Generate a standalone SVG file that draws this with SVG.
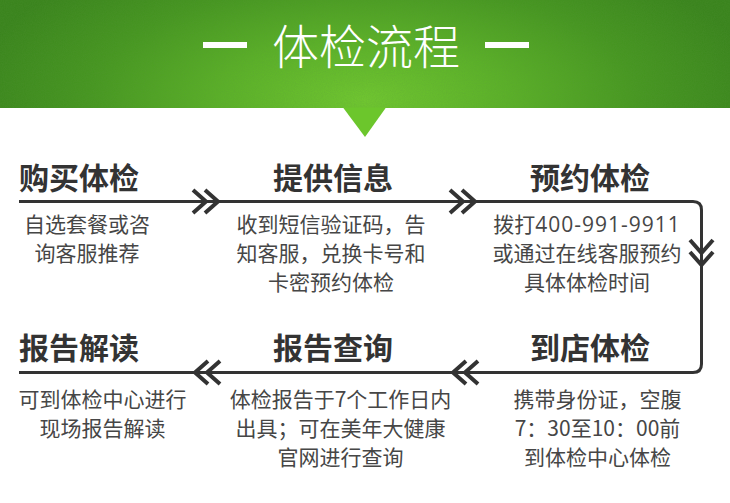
<svg xmlns="http://www.w3.org/2000/svg" width="730" height="503" viewBox="0 0 730 503">
<defs>
<radialGradient id="bg" gradientUnits="userSpaceOnUse" cx="365" cy="100" r="400" gradientTransform="translate(365 100) scale(1 0.42) translate(-365 -100)">
<stop offset="0" stop-color="#72ca2f"/>
<stop offset="0.35" stop-color="#5cb327"/>
<stop offset="0.7" stop-color="#45961f"/>
<stop offset="1" stop-color="#38831b"/>
</radialGradient>
<filter id="noise" x="0" y="0" width="100%" height="100%">
<feTurbulence type="fractalNoise" baseFrequency="0.9" numOctaves="2" stitchTiles="stitch"/>
<feColorMatrix type="matrix" values="0 0 0 0 0.1  0 0 0 0 0.3  0 0 0 0 0.05  0 0 0 0.4 0"/>
</filter>
<style>
.head{font-family:"Noto Sans CJK SC","Noto Sans",sans-serif;font-size:30px;font-weight:bold;fill:#333333;}
.desc{font-family:"Noto Sans CJK SC","Noto Sans",sans-serif;font-size:21px;fill:#464646;text-anchor:middle;}
.num{font-family:"Open Sans","Noto Sans CJK SC",sans-serif;letter-spacing:1px;}
.title{font-family:"Noto Sans CJK SC","Noto Sans",sans-serif;font-size:47px;font-weight:300;fill:#ffffff;text-anchor:middle;}
.line{fill:none;stroke:#333333;stroke-width:3;}
.chev{fill:none;stroke:#333333;stroke-width:4;stroke-linejoin:miter;}
</style>
</defs>
<rect width="730" height="503" fill="#ffffff"/>
<g id="banner">
<rect x="0" y="0" width="730" height="108" fill="url(#bg)"/>
<rect x="0" y="0" width="730" height="108" filter="url(#noise)" opacity="0.7"/>
<polygon points="343,107.5 386,107.5 365,137" fill="#6cc62c"/>
<rect x="203" y="42" width="44" height="6" fill="#ffffff"/>
<rect x="485" y="42" width="44" height="6" fill="#ffffff"/>
<text class="title" x="366" y="64">体检流程</text>
</g>
<g id="connectors">
<path class="line" d="M19,201.5 H693 Q701.5,201.5 701.5,210 V364 Q701.5,372.5 693,372.5 H19"/>
<path class="chev" d="M193,190 L206,201.5 L193,213 M205,190 L218,201.5 L205,213"/>
<path class="chev" d="M450,190 L463,201.5 L450,213 M462,190 L475,201.5 L462,213"/>
<path class="chev" d="M690,240 L701.5,253 L713,240 M690,252 L701.5,265 L713,252"/>
<path class="chev" d="M466,361 L453,372.5 L466,384 M478,361 L465,372.5 L478,384"/>
<path class="chev" d="M208,361 L195,372.5 L208,384 M220,361 L207,372.5 L220,384"/>
</g>
<g id="step1">
<text class="head" x="19" y="189">购买体检</text>
<text class="desc" x="87" y="232">自选套餐或咨</text>
<text class="desc" x="87" y="261">询客服推荐</text>
</g>
<g id="step2">
<text class="head" x="273" y="189">提供信息</text>
<text class="desc" x="331" y="232">收到短信验证码，告</text>
<text class="desc" x="331" y="261">知客服，兑换卡号和</text>
<text class="desc" x="331" y="290">卡密预约体检</text>
</g>
<g id="step3">
<text class="head" x="530" y="189">预约体检</text>
<text class="desc" x="587" y="232">拨打<tspan class="num">400-991-9911</tspan></text>
<text class="desc" x="587" y="261">或通过在线客服预约</text>
<text class="desc" x="587" y="290">具体体检时间</text>
</g>
<g id="step4">
<text class="head" x="530" y="359">到店体检</text>
<text class="desc" x="597.5" y="407">携带身份证，空腹</text>
<text class="desc" x="597.5" y="436">7：30至10：00前</text>
<text class="desc" x="597.5" y="465">到体检中心体检</text>
</g>
<g id="step5">
<text class="head" x="273" y="359">报告查询</text>
<text class="desc" x="340.5" y="407">体检报告于7个工作日内</text>
<text class="desc" x="340.5" y="436">出具；可在美年大健康</text>
<text class="desc" x="340.5" y="465">官网进行查询</text>
</g>
<g id="step6">
<text class="head" x="19" y="359">报告解读</text>
<text class="desc" x="102.5" y="407">可到体检中心进行</text>
<text class="desc" x="102.5" y="436">现场报告解读</text>
</g>
</svg>
